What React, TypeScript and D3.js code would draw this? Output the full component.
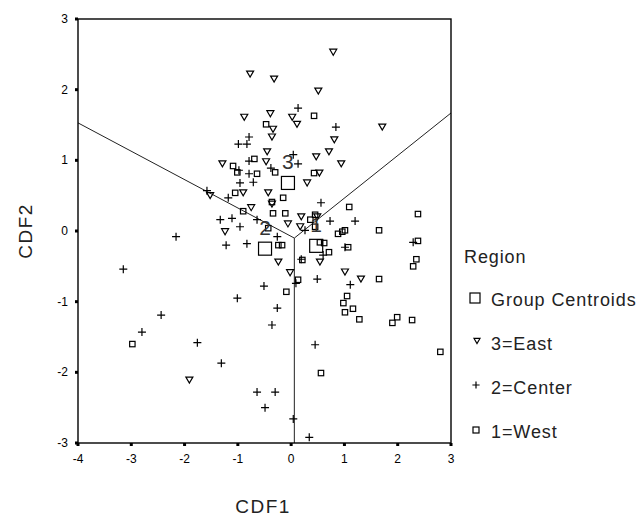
import React from "react";
import * as d3 from "d3";

// Discriminant scores (CDF1, CDF2) per region group
const eastX = [0.79,-0.77,-0.32,0.51,-0.88,-0.39,0.02,0.11,-0.34,-0.36,1.71,0.81,0.71,-0.45,-0.47,0.47,0.94,-1.29,0.53,0.30,-0.90,-0.43,-1.52,-0.75,-0.36,0.19,0.49,-1.24,0.17,-0.24,-0.02,0.54,1.01,1.31,-0.06,-1.91];
const eastY = [2.53,2.22,2.15,1.98,1.61,1.66,1.61,1.51,1.44,1.33,1.47,1.29,1.12,1.12,0.98,1.05,0.95,0.95,0.82,0.68,0.54,0.54,0.50,0.33,0.38,0.20,0.20,-0.01,0.06,-0.44,-0.59,-0.44,-0.58,-0.68,0.10,-2.11];

const centerX = [0.13,0.84,-0.79,-0.99,-0.83,0.04,0.13,-0.79,-0.98,-0.79,-0.38,-0.96,-0.71,-1.58,-1.18,0.56,-1.33,-1.11,-0.64,-0.96,0.73,1.20,-2.16,-1.22,-0.83,-0.26,0.26,0.19,0.60,1.01,-3.15,0.09,0.49,1.11,-0.51,-1.01,-0.26,-0.36,0.45,-2.44,-2.80,-1.76,-1.31,-0.64,-0.30,-0.49,0.04,0.34,2.29];
const centerY = [1.74,1.47,1.33,1.23,1.23,1.08,0.95,0.99,0.86,0.81,0.89,0.68,0.69,0.57,0.47,0.40,0.16,0.18,0.16,0.06,0.14,0.14,-0.08,-0.20,-0.18,-0.08,0.01,-0.40,-0.34,-0.23,-0.54,-0.74,-0.68,-0.76,-0.78,-0.95,-1.09,-1.33,-1.61,-1.19,-1.43,-1.58,-1.87,-2.28,-2.28,-2.50,-2.66,-2.92,-0.16];

const westX = [0.43,-0.47,-0.69,-1.09,-1.01,-0.64,-0.30,0.43,-1.05,-0.15,-0.36,1.09,2.38,-0.90,-0.34,-0.11,0.45,0.36,-0.43,0.45,1.01,0.88,1.65,0.54,0.62,0.71,-0.24,-0.17,0.21,1.07,2.38,2.35,2.29,0.13,-0.09,1.65,1.05,0.98,1.01,1.16,1.28,1.99,1.90,2.27,2.80,0.56,-2.98,0.96];
const westY = [1.63,1.51,1.02,0.92,0.83,0.81,0.83,0.82,0.54,0.47,0.41,0.34,0.24,0.28,0.25,0.25,0.23,0.16,0.04,0.06,0.01,-0.04,0.01,-0.16,-0.17,-0.30,-0.20,-0.20,-0.41,-0.23,-0.14,-0.40,-0.50,-0.69,-0.86,-0.68,-0.92,-1.02,-1.15,-1.10,-1.25,-1.22,-1.30,-1.26,-1.71,-2.01,-1.60,-0.01];

const centroidLabels = ["3", "2", "1"];
const centroidX = [-0.06, -0.49, 0.47];
const centroidY = [0.68, -0.25, -0.21];

// Territorial map boundaries
const boundaryLeft: [number, number][] = [[-4, 1.53], [0.06, -0.1]];
const boundaryRight: [number, number][] = [[0.06, -0.1], [3, 1.67]];
const boundaryDown: [number, number][] = [[0.06, -0.1], [0.06, -3]];

const xTicks = [-4, -3, -2, -1, 0, 1, 2, 3];
const yTicks = [-3, -2, -1, 0, 1, 2, 3];

const legendTitle = "Region";
const legendLabels = ["Group Centroids", "3=East", "2=Center", "1=West"];

const FONT = "'Liberation Sans', Arial, sans-serif";

function Tri({ x, y, s = 1 }: { x: number; y: number; s?: number }) {
  const w = 3.5 * s, h = 3 * s;
  return <path d={`M${x - w},${y - h}L${x + w},${y - h}L${x},${y + h}Z`} fill="none" stroke="#000" strokeWidth={1.2} />;
}
function Plus({ x, y, s = 1 }: { x: number; y: number; s?: number }) {
  const r = 4 * s;
  return <path d={`M${x - r},${y}H${x + r}M${x},${y - r}V${y + r}`} stroke="#000" strokeWidth={1.2} fill="none" />;
}
function Sq({ x, y, r }: { x: number; y: number; r: number }) {
  return <rect x={x - r} y={y - r} width={2 * r} height={2 * r} fill="none" stroke="#000" strokeWidth={1.2} />;
}

export default function App() {
  const W = 639, H = 518;
  const x = d3.scaleLinear().domain([-4, 3]).range([78, 451]);
  const y = d3.scaleLinear().domain([-3, 3]).range([443, 19]);
  const line = d3.line<[number, number]>().x(d => x(d[0])).y(d => y(d[1]));

  const legendY = [300, 344, 388, 432];

  return (
    <svg width={W} height={H} style={{ position: "absolute", left: 0, top: 0, background: "#fff" }} fontFamily={FONT}>
      <rect width={W} height={H} fill="#fff" />
      {/* boundaries */}
      {[boundaryLeft, boundaryRight, boundaryDown].map((b, i) => (
        <path key={i} d={line(b) || ""} stroke="#222" strokeWidth={1} fill="none" />
      ))}
      {/* points */}
      {westX.map((v, i) => <Sq key={"w" + i} x={x(v)} y={y(westY[i])} r={2.7} />)}
      {centerX.map((v, i) => <Plus key={"c" + i} x={x(v)} y={y(centerY[i])} />)}
      {eastX.map((v, i) => <Tri key={"e" + i} x={x(v)} y={y(eastY[i])} />)}
      {/* centroids */}
      {centroidX.map((v, i) => (
        <g key={"g" + i}>
          <Sq x={x(v)} y={y(centroidY[i])} r={6.5} />
          <text x={x(v)} y={y(centroidY[i]) - 21} textAnchor="middle" dominantBaseline="central" fontSize={21} fill="#333">{centroidLabels[i]}</text>
        </g>
      ))}
      {/* frame */}
      <rect x={78} y={19} width={373} height={424} fill="none" stroke="#000" strokeWidth={1.4} />
      {/* ticks */}
      {xTicks.map(t => (
        <g key={"xt" + t}>
          <rect x={x(t) - 1.5} y={443} width={3} height={3} fill="#000" />
          <text x={x(t)} y={459} textAnchor="middle" dominantBaseline="central" fontSize={12} fill="#000">{t}</text>
        </g>
      ))}
      {yTicks.map(t => (
        <g key={"yt" + t}>
          <rect x={75} y={y(t) - 1.5} width={3} height={3} fill="#000" />
          <text x={68} y={y(t)} textAnchor="end" dominantBaseline="central" fontSize={12} fill="#000">{t}</text>
        </g>
      ))}
      {/* axis titles */}
      <text x={263} y={513} textAnchor="middle" fontSize={19} letterSpacing={1.5} fill="#222">CDF1</text>
      <text transform={`translate(32,231) rotate(-90)`} textAnchor="middle" fontSize={19} letterSpacing={1.5} fill="#222">CDF2</text>
      {/* legend */}
      <text x={464} y={257} dominantBaseline="central" fontSize={18} letterSpacing={0.9} fill="#222">{legendTitle}</text>
      <Sq x={475} y={298} r={5} />
      <Tri x={477} y={341} s={0.85} />
      <Plus x={476} y={385} s={0.9} />
      <Sq x={476} y={430} r={3} />
      {legendLabels.map((l, i) => (
        <text key={l} x={491} y={legendY[i]} dominantBaseline="central" fontSize={18} letterSpacing={0.9} fill="#222">{l}</text>
      ))}
    </svg>
  );
}
